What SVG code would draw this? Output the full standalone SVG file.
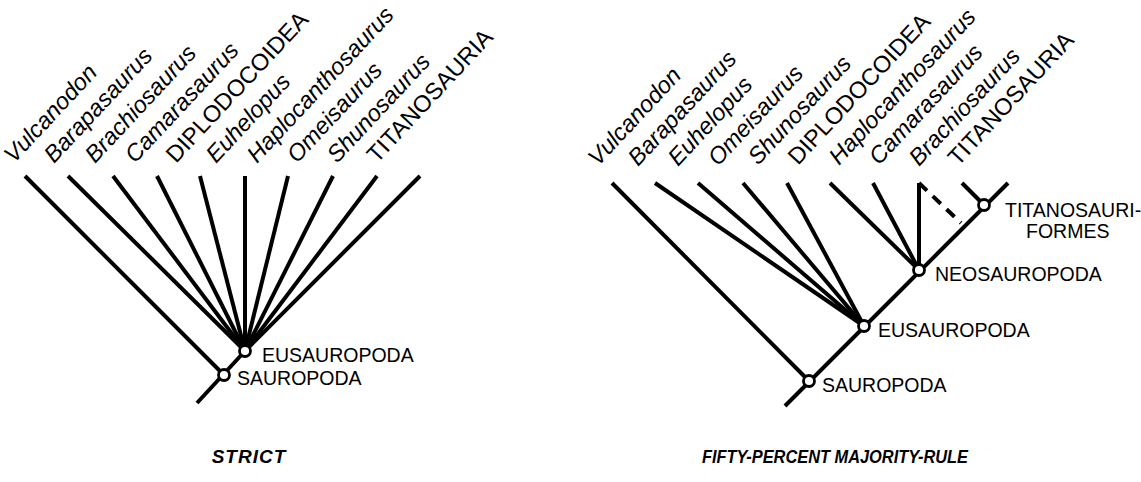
<svg xmlns="http://www.w3.org/2000/svg" width="1141" height="482" viewBox="0 0 1141 482">
<style>
.br{stroke:#000;stroke-width:4;fill:none;stroke-linecap:butt}
.dash{stroke:#000;stroke-width:4;fill:none;stroke-dasharray:11 8}
.nd{fill:#fff;stroke:#000;stroke-width:2.8}
.tx{font-family:"Liberation Sans",Arial,sans-serif;font-size:23.5px;font-style:italic;fill:#000}
.tc{font-family:"Liberation Sans",Arial,sans-serif;font-size:23.5px;fill:#000}
.cl{font-family:"Liberation Sans",Arial,sans-serif;font-size:19.5px;fill:#000}
.ti{font-family:"Liberation Sans",Arial,sans-serif;font-size:19px;font-weight:bold;font-style:italic;fill:#000;text-anchor:middle}
</style>
<rect width="1141" height="482" fill="#fff"/>
<g id="connectors">
<line class="br" x1="197" y1="403" x2="245" y2="351"/>
<line class="br" x1="25" y1="176" x2="224" y2="375"/>
<line class="br" x1="68" y1="176" x2="245" y2="351"/>
<line class="br" x1="113" y1="176" x2="245" y2="351"/>
<line class="br" x1="157" y1="176" x2="245" y2="351"/>
<line class="br" x1="200" y1="176" x2="245" y2="351"/>
<line class="br" x1="245" y1="176" x2="245" y2="351"/>
<line class="br" x1="288" y1="176" x2="245" y2="351"/>
<line class="br" x1="333" y1="176" x2="245" y2="351"/>
<line class="br" x1="377" y1="176" x2="245" y2="351"/>
<line class="br" x1="420" y1="176" x2="245" y2="351"/>
<line class="br" x1="785" y1="406" x2="1008" y2="183"/>
<line class="br" x1="612" y1="183" x2="809" y2="381"/>
<line class="br" x1="655" y1="183" x2="864" y2="326"/>
<line class="br" x1="698" y1="183" x2="864" y2="326"/>
<line class="br" x1="743" y1="183" x2="864" y2="326"/>
<line class="br" x1="787" y1="183" x2="864" y2="326"/>
<line class="br" x1="830" y1="183" x2="919" y2="270"/>
<line class="br" x1="873" y1="183" x2="919" y2="270"/>
<line class="br" x1="919" y1="270" x2="919" y2="183"/>
<line class="dash" x1="919" y1="183" x2="961" y2="223"/>
<line class="br" x1="962" y1="183" x2="984" y2="205"/>
</g>
<g id="node-strict-sauropoda"><circle class="nd" cx="224" cy="375" r="5.5"/><text class="cl" x="237" y="385">SAUROPODA</text></g>
<g id="node-strict-eusauropoda"><circle class="nd" cx="245" cy="351" r="5.5"/><text class="cl" x="262" y="362">EUSAUROPODA</text></g>
<g id="node-mr-sauropoda"><circle class="nd" cx="809" cy="381" r="5.5"/><text class="cl" x="822" y="392">SAUROPODA</text></g>
<g id="node-mr-eusauropoda"><circle class="nd" cx="864" cy="326" r="5.5"/><text class="cl" x="878" y="337">EUSAUROPODA</text></g>
<g id="node-mr-neosauropoda"><circle class="nd" cx="919" cy="270" r="5.5"/><text class="cl" x="935" y="281">NEOSAUROPODA</text></g>
<g id="node-mr-titanosauriformes"><circle class="nd" cx="984" cy="205" r="5.5"/><text class="cl" x="1005" y="217">TITANOSAURI-</text><text class="cl" x="1026" y="238">FORMES</text></g>
<g id="taxa-strict">
<text class="tx" transform="translate(14,164) rotate(-47)">Vulcanodon</text>
<text class="tx" transform="translate(54,164) rotate(-47)">Barapasaurus</text>
<text class="tx" transform="translate(95,164) rotate(-47)">Brachiosaurus</text>
<text class="tx" transform="translate(135,164) rotate(-47)">Camarasaurus</text>
<text class="tc" transform="translate(176,164) rotate(-47)">DIPLODOCOIDEA</text>
<text class="tx" transform="translate(216,164) rotate(-47)">Euhelopus</text>
<text class="tx" transform="translate(257,164) rotate(-47)">Haplocanthosaurus</text>
<text class="tx" transform="translate(297,164) rotate(-47)">Omeisaurus</text>
<text class="tx" transform="translate(337,164) rotate(-47)">Shunosaurus</text>
<text class="tc" transform="translate(377,164) rotate(-47)">TITANOSAURIA</text>
</g>
<g id="taxa-majority">
<text class="tx" transform="translate(598,167) rotate(-47)">Vulcanodon</text>
<text class="tx" transform="translate(638,167) rotate(-47)">Barapasaurus</text>
<text class="tx" transform="translate(678,167) rotate(-47)">Euhelopus</text>
<text class="tx" transform="translate(718,167) rotate(-47)">Omeisaurus</text>
<text class="tx" transform="translate(758,166) rotate(-47)">Shunosaurus</text>
<text class="tc" transform="translate(798,166) rotate(-47)">DIPLODOCOIDEA</text>
<text class="tx" transform="translate(839,166) rotate(-47)">Haplocanthosaurus</text>
<text class="tx" transform="translate(879,166) rotate(-47)">Camarasaurus</text>
<text class="tx" transform="translate(919,167) rotate(-47)">Brachiosaurus</text>
<text class="tc" transform="translate(958,167) rotate(-47)">TITANOSAURIA</text>
</g>
<g id="titles">
<text class="ti" x="249" y="463" letter-spacing="1">STRICT</text>
<text class="ti" x="835" y="463" textLength="266" lengthAdjust="spacingAndGlyphs">FIFTY-PERCENT MAJORITY-RULE</text>
</g>
</svg>
